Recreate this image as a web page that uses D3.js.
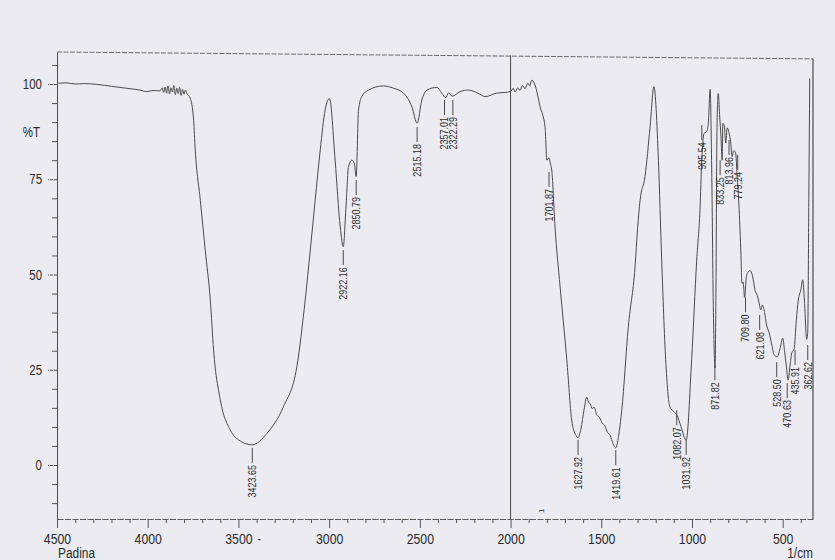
<!DOCTYPE html>
<html>
<head>
<meta charset="utf-8">
<script src="https://cdn.jsdelivr.net/npm/d3@7"></script>
<style>
  html, body { margin: 0; padding: 0; background: #ecebf2; }
  svg { display: block; }
  text { font-family: "Liberation Sans", Arial, sans-serif; fill: #2b2b2b; }
</style>
</head>
<body>
<svg id="chart" width="835" height="560"></svg>
<script>
// ---- data ----
const wavenumber = [4491,4450,4400,4350,4280,4200,4120,4041,4004,3970,3931,3920,3912,3904,3896,3888,3880,3872,3864,3856,3848,3840,3832,3824,3816,3808,3800,3792,3784,3766,3747,3738,3710,3683,3655,3637,3600,3545,3490,3424,3343,3252,3178,3132,3104,3077,3049,3022,2998,2967,2939,2922,2908,2893,2875,2862,2851,2838,2820,2783,2701,2645,2590,2544,2515,2489,2461,2406,2379,2357,2342,2322,2278,2232,2180,2140,2076,2030,2000,1985,1975,1960,1948,1935,1920,1905,1895,1883,1865,1837,1810,1800,1790,1780,1773,1755,1727,1690,1663,1640,1628,1612,1595,1580,1570,1560,1550,1540,1525,1510,1495,1480,1465,1453,1440,1420,1405,1387,1351,1314,1300,1286,1259,1231,1210,1185,1167,1145,1122,1100,1082,1060,1032,1002,974,956,946,934,919,910,900,892,882,873,868,863,858,855,848,840,834,830,822,814,806,795,788,779,770,760,750,740,730,725,718,710,700,690,680,671,660,653,640,630,621,612,600,590,574,560,547,530,515,500,490,480,470,460,450,437,425,414,400,390,380,368,362,356,351];
const transmittance = [100.2,100.3,100.0,100.1,99.9,99.4,98.9,98.4,98.0,98.3,98.2,99.0,97.8,99.2,97.6,99.5,97.4,99.0,97.9,99.6,97.2,98.9,97.5,99.1,97.0,98.6,97.3,98.4,97.5,96.3,90.5,82.7,69.5,56.4,43.3,30.2,17.1,9.2,6.3,5.3,8.3,15.3,25.8,43.3,56.4,69.5,82.7,93.2,96.2,80.0,62.5,57.3,67,78.3,80.0,79.3,75.7,93.2,96.7,98.4,99.5,98.9,97.6,94.0,89.7,95.8,98.4,99.1,97.6,96.4,97.7,96.8,98.0,98.4,97.6,96.7,97.6,97.8,98.0,98.9,97.9,99.0,98.3,99.6,98.8,100.2,99.5,101.0,99.7,94.0,88.8,80.0,80.6,79.0,77.4,62.5,46.8,27.6,11.8,7.8,7.2,9.5,14.5,17.8,16.5,16.0,14.8,15.2,13.2,12.5,11.0,10.3,8.5,8.0,6.2,4.5,7.5,14.4,36.3,52.0,62,69.5,75.7,88.8,99.3,80.0,53.8,27.6,15.3,14.0,13.0,10.0,6.5,27.6,53.8,67,80,87,87.5,89.7,98.6,80,40,25.5,45,85,96,97.5,92,86,80,89.7,89,84.5,88.5,87,85.3,81,82.5,82,75,67,55,47.7,48,44,49.5,50.7,51,50.4,48,46,44.5,42.5,40.7,42,40,37,34.6,31.5,28.9,28.4,30.5,33.3,30,26,22.3,26,29.4,30.5,38,43.3,46,48.6,43,33,35,70,101.5];

// peak annotations: printed text, wavenumber where it is drawn, %T where its leader starts
const peakText = ["3423.65","2922.16","2850.79","2515.18","2357.01","2322.29","1701.87","1627.92","1419.61","1082.07","1031.92","905.54","871.82","833.25","813.96","779.24","709.80","621.08","528.50","470.63","435.91","362.62"];
const peakAt   = [3423.65,2922.16,2850.79,2515.18,2364,2318,1788,1628,1420,1084,1032,946,874,845,796,748,705,627,533,475,432,362];
const peakLevel= [4.5,56.4,74.8,88.7,95.8,95.8,76.9,6.6,3.9,14.4,6.6,89.2,26.2,80,85.3,81.4,44,39.4,27,21.5,30.2,31.5];

const xTickValues = [4500,4000,3500,3000,2500,2000,1500,1000,500];
const xTickLabels = ["4500","4000","3500","3000","2500","2000","1500","1000","500"];
const yTickValues = [0,25,50,75,100];
const yTickLabels = ["0","25","50","75","100"];
const yUnit = "%T";
const xUnit = "1/cm";
const sampleName = "Padina";
const splitAt = 2000;

// ---- scales ----
const svg = d3.select("#chart");
const x = d3.scaleLinear().domain([4500, 333]).range([57, 813]);
const y = d3.scaleLinear().domain([-14.17, 108.4]).range([519, 52]);
const ink = "#4a4a4a";
const narrow = 0.82; // condensed look of the printed font

// frame: top (slightly skewed as in the scan), right, split line
svg.append("line")
  .attr("x1", x(4500)).attr("y1", y(108.4))
  .attr("x2", x(333)).attr("y2", y(106.6))
  .attr("stroke", "#6a6a6a").attr("stroke-width", 1).attr("stroke-dasharray", "5 1.5");
svg.append("line")
  .attr("x1", x(333)).attr("y1", y(106.6))
  .attr("x2", x(333)).attr("y2", y(-14.17))
  .attr("stroke", ink).attr("stroke-width", 1.2);
svg.append("line")
  .attr("x1", x(splitAt)).attr("y1", y(107.5))
  .attr("x2", x(splitAt)).attr("y2", y(-14.17))
  .attr("stroke", ink).attr("stroke-width", 1);

// ---- axes ----
const xAxis = d3.axisBottom(x).tickValues(xTickValues)
  .tickFormat((d, i) => xTickLabels[i]).tickSize(9).tickSizeOuter(0).tickPadding(5);
const gx = svg.append("g").attr("transform", `translate(0,${y(-14.17)})`).call(xAxis);
gx.select(".domain").attr("stroke", "#5a5a5a").attr("stroke-dasharray", "6 1.5");
gx.selectAll(".tick line").attr("stroke", "#555");
gx.selectAll("text").attr("font-size", 15).attr("y", 14).attr("dy", "0.71em")
  .attr("transform", `scale(${narrow},1)`)
  .style("font-family", '"Liberation Sans", Arial, sans-serif').attr("fill", "#2b2b2b");

const xMinor = d3.axisBottom(x).tickValues(d3.range(4400, 333, -100).filter(v => v % 500 !== 0))
  .tickSize(4).tickSizeOuter(0).tickFormat("");
const gxm = svg.append("g").attr("transform", `translate(0,${y(-14.17)})`).call(xMinor);
gxm.select(".domain").remove();
gxm.selectAll(".tick line").attr("stroke", "#555");

const yAxis = d3.axisLeft(y).tickValues(yTickValues)
  .tickFormat((d, i) => yTickLabels[i]).tickSize(9).tickSizeOuter(0).tickPadding(6);
const gy = svg.append("g").attr("transform", `translate(${x(4500)},0)`).call(yAxis);
gy.select(".domain").attr("stroke", ink);
gy.selectAll(".tick line").attr("stroke", "#555").attr("stroke-dasharray", "3 1");
gy.selectAll("text").attr("font-size", 14).attr("x", -15 / narrow)
  .attr("transform", `scale(${narrow},1)`)
  .style("font-family", '"Liberation Sans", Arial, sans-serif').attr("fill", "#2b2b2b");

const yMinor = d3.axisLeft(y).tickValues(d3.range(-10, 106, 5).filter(v => v % 25 !== 0))
  .tickSize(5).tickSizeOuter(0).tickFormat("");
const gym = svg.append("g").attr("transform", `translate(${x(4500)},0)`).call(yMinor);
gym.select(".domain").remove();
gym.selectAll(".tick line").attr("stroke", "#555");

// unit labels
svg.append("text").attr("transform", `translate(${x(4500) - 17},${y(87.5)}) scale(${narrow},1)`)
  .attr("dy", "0.35em").attr("text-anchor", "end").attr("font-size", 14).text(yUnit);
svg.append("text").attr("transform", `translate(${x(4500) + 1},558) scale(${narrow},1)`)
  .attr("font-size", 14.5).text(sampleName);
svg.append("text").attr("transform", `translate(${x(333)},558) scale(${narrow},1)`)
  .attr("text-anchor", "end").attr("font-size", 14.5).text(xUnit);

// ---- spectrum ----
const pts = wavenumber.map((w, i) => [w, transmittance[i]]);
const line = d3.line().x(d => x(d[0])).y(d => y(d[1])).curve(d3.curveMonotoneX);
svg.append("path").datum(pts).attr("d", line)
  .attr("fill", "none").attr("stroke", ink).attr("stroke-width", 1).attr("stroke-linejoin", "round");

// ---- peak labels ----
const lead = 15;
const pk = svg.append("g");
peakText.forEach((t, i) => {
  const px = x(peakAt[i]);
  const py = y(peakLevel[i]);
  pk.append("line").attr("x1", px).attr("x2", px).attr("y1", py).attr("y2", py + lead)
    .attr("stroke", ink).attr("stroke-width", 1);
  pk.append("text")
    .attr("transform", `translate(${px},${py + lead + 2}) rotate(-90) scale(${narrow},1)`)
    .attr("text-anchor", "end").attr("dy", "0.35em")
    .attr("font-size", 11).text(t);
});

// small marks of the scan: pen mark near the baseline and the dash after "3500"
svg.append("text")
  .attr("transform", `translate(${x(1830)},${y(-12)}) rotate(-90)`)
  .attr("text-anchor", "middle").attr("dy", "0.35em")
  .attr("font-size", 8).text("1");
svg.append("text")
  .attr("transform", `translate(${x(3395)},${y(-14.17) + 24}) scale(${narrow},1)`)
  .attr("font-size", 13).text("-");
</script>
</body>
</html>
